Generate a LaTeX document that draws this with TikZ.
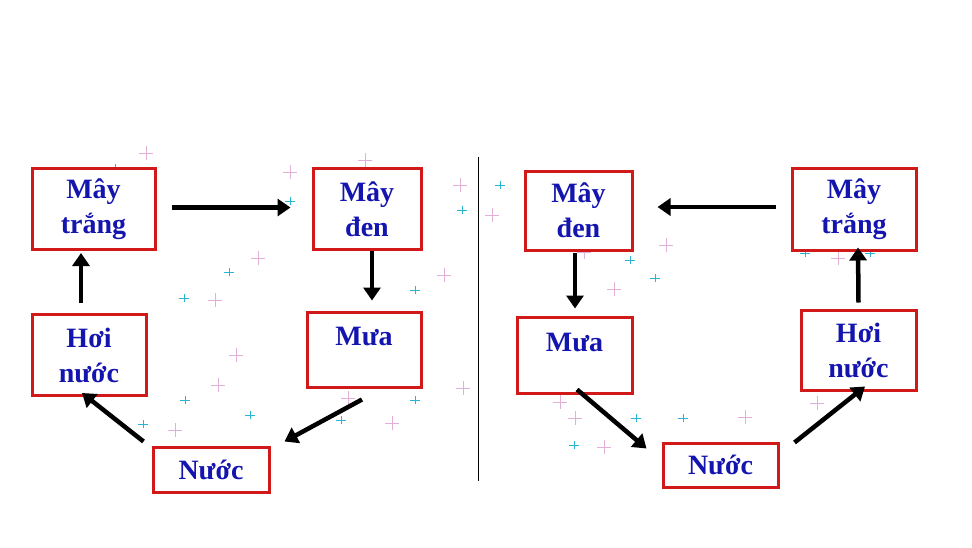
\documentclass[tikz,border=0pt]{standalone}
\usepackage{fontspec}
\setmainfont{Liberation Serif}
\usepackage{tikz}
\usetikzlibrary{arrows.meta,calc}
\definecolor{boxred}{RGB}{210,25,25}
\definecolor{txtblue}{RGB}{20,20,175}
\definecolor{sparkpink}{RGB}{225,175,215}
\definecolor{sparkcyan}{RGB}{40,180,210}

\begin{document}
\begin{tikzpicture}[x=1pt, y=1pt,
        box/.style={draw=boxred, line width=3pt, fill=white, align=center,
            text=txtblue, font=\fontsize{28}{35}\selectfont\bfseries, inner sep=0pt},
        flow/.style={line width=4.5pt, -{Triangle[length=13pt,width=17pt]}}]
    \useasboundingbox (0,0) rectangle (972,-547);

    % sparkles in the background
    \foreach \x/\y in {146/153, 290/172, 365/160, 258/258, 215/300, 372/290, 402/318,
        218/385, 175/430, 348/398, 392/423, 463/388, 460/185, 492/215, 444/275,
        614/289, 666/245, 584/252, 575/418, 604/447, 745/417, 886/215, 838/258,
        817/403, 560/402, 236/355}
        \draw[sparkpink, line width=1pt] (\x-7,-\y) -- (\x+7,-\y) (\x,-\y-7) -- (\x,-\y+7);
    \foreach \x/\y in {115/168, 290/201, 333/173, 462/210, 229/272, 184/298, 415/290,
        372/315, 185/400, 143/424, 341/420, 415/400, 500/185, 630/260, 574/445,
        636/418, 683/418, 805/253, 870/253, 655/278, 250/415}
        \draw[sparkcyan, line width=1pt] (\x-5,-\y) -- (\x+5,-\y) (\x,-\y-4) -- (\x,-\y+4);

    % divider
    \draw[line width=0.8pt] (478,-157) -- (478,-481);

    % left cycle
    \node[box, minimum width=123pt, minimum height=81pt] (mtL) at (93.5,-209) {Mây\\trắng};
    \node[box, minimum width=108pt, minimum height=81pt] (mdL) at (367,-209) {Mây\\đen};
    \node[box, minimum width=114pt, minimum height=75pt] (muaL) at (364,-349.5) {Mưa\\[-20pt]\strut};
    \node[box, minimum width=116pt, minimum height=45pt] (nuocL) at (211,-469.5) {Nước};
    \node[box, minimum width=114pt, minimum height=81pt] (hoiL) at (89,-355) {Hơi\\nước};

    \draw[flow] ($(mtL.east)+(15,1.5)$) -- ($(mdL.west)+(-21,1.5)$);
    \draw[flow] ($(mdL.south)+(5,0)$) -- ($(muaL.north)+(8,10)$);
    \draw[flow] ($(muaL.south)+(-2,-11)$) -- ($(nuocL.north east)+(14,4)$);
    \draw[flow] ($(nuocL.north west)+(-8,4)$) -- ($(hoiL.south)+(-7,4)$);
    \draw[flow] ($(hoiL.north)+(-8,10)$) -- ($(mtL.south)+(-12.5,-2)$);

    % right cycle
    \node[box, minimum width=124pt, minimum height=82pt] (mtR) at (854,-209) {Mây\\trắng};
    \node[box, minimum width=107pt, minimum height=79pt] (mdR) at (578.5,-210.5) {Mây\\đen};
    \node[box, minimum width=115pt, minimum height=76pt] (muaR) at (574.5,-355) {Mưa\\[-20pt]\strut};
    \node[box, minimum width=115pt, minimum height=44pt] (nuocR) at (720.5,-465) {Nước};
    \node[box, minimum width=115pt, minimum height=80pt] (hoiR) at (858.5,-350) {Hơi\\nước};

    \draw[flow] ($(mtR.west)+(-15,2)$) -- ($(mdR.east)+(24,3.5)$);
    \draw[flow] ($(mdR.south)+(-3.5,-1)$) -- ($(muaR.north)+(0.5,7)$);
    \draw[flow] ($(muaR.south)+(2.5,5)$) -- ($(nuocR.north west)+(-15,-7)$);
    \draw[flow] ($(nuocR.north east)+(15,-1)$) -- ($(hoiR.south)+(6.5,5)$);
    \draw[flow] ($(hoiR.north)+(0,6)$) -- ($(mtR.south)+(4,4)$);
\end{tikzpicture}
\end{document}
